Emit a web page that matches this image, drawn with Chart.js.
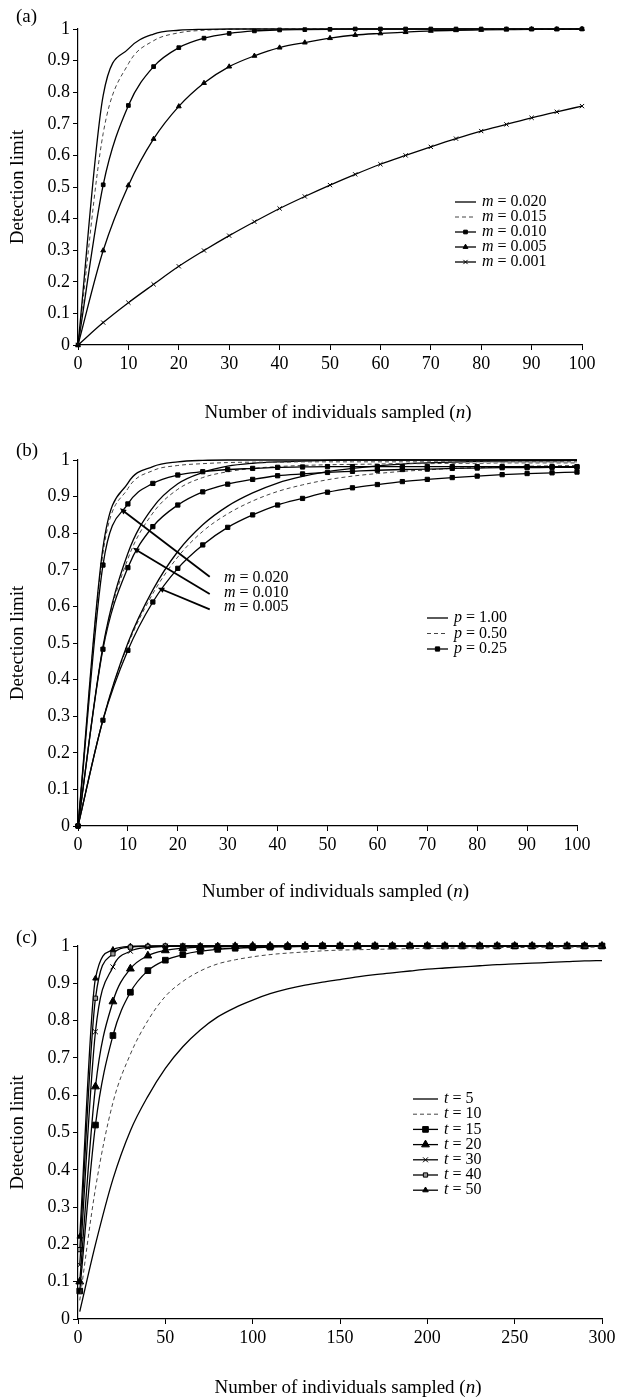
<!DOCTYPE html>
<html>
<head>
<meta charset="utf-8">
<script src="https://cdn.jsdelivr.net/npm/chart.js@4.4.0/dist/chart.umd.min.js"></script>
<style>
  body { margin: 0; background: #fff; }
  canvas { position: absolute; left: 0; }
</style>
</head>
<body>
<canvas id="chartA" width="622" height="440" style="top:0px"></canvas>
<canvas id="chartB" width="622" height="470" style="top:440px"></canvas>
<canvas id="chartC" width="622" height="488" style="top:910px"></canvas>
<script>
// ---- data ----
var yTickLabels = ['0', '0.1', '0.2', '0.3', '0.4', '0.5', '0.6', '0.7', '0.8', '0.9', '1'];
var xTicksAB = ['0', '10', '20', '30', '40', '50', '60', '70', '80', '90', '100'];
var xTicksC = ['0', '50', '100', '150', '200', '250', '300'];

// (a) sample sizes and detection limits for each m
var nA = [0, 5, 10, 15, 20, 25, 30, 35, 40, 45, 50, 55, 60, 65, 70, 75, 80, 85, 90, 95, 100];
var aM020 = [0, 0.79, 0.937, 0.984, 0.996, 0.999, 1, 1, 1, 1, 1, 1, 1, 1, 1, 1, 1, 1, 1, 1, 1];
var aM015 = [0, 0.67, 0.89, 0.963, 0.988, 0.996, 0.999, 1, 1, 1, 1, 1, 1, 1, 1, 1, 1, 1, 1, 1, 1];
var aM010 = [0, 0.507, 0.758, 0.881, 0.941, 0.971, 0.986, 0.994, 0.997, 0.998, 0.999, 1, 1, 1, 1, 1, 1, 1, 1, 1, 1];
var aM005 = [0, 0.299, 0.505, 0.652, 0.755, 0.829, 0.881, 0.915, 0.941, 0.957, 0.971, 0.981, 0.986, 0.99, 0.994, 0.996, 0.997, 0.998, 0.999, 0.999, 1];
var aM001 = [0, 0.071, 0.134, 0.192, 0.249, 0.299, 0.346, 0.39, 0.432, 0.47, 0.506, 0.54, 0.572, 0.6, 0.627, 0.653, 0.677, 0.698, 0.719, 0.738, 0.756];

// (b) m x p combinations
var nB = [0, 5, 10, 15, 20, 25, 30, 35, 40, 45, 50, 55, 60, 65, 70, 75, 80, 85, 90, 95, 100];
var bM020p100 = [0, 0.76, 0.937, 0.982, 0.995, 0.999, 1, 1, 1, 1, 1, 1, 1, 1, 1, 1, 1, 1, 1, 1, 1];
var bM020p050 = [0, 0.745, 0.922, 0.971, 0.985, 0.99, 0.993, 0.994, 0.994, 0.995, 0.995, 0.995, 0.995, 0.995, 0.995, 0.995, 0.995, 0.995, 0.995, 0.995, 0.995];
var bM020p025 = [0, 0.713, 0.88, 0.936, 0.959, 0.968, 0.974, 0.977, 0.98, 0.981, 0.982, 0.982, 0.982, 0.982, 0.982, 0.982, 0.982, 0.982, 0.982, 0.982, 0.982];
var bM010p100 = [0, 0.49, 0.745, 0.87, 0.935, 0.966, 0.983, 0.991, 0.995, 0.997, 0.999, 1, 1, 1, 1, 1, 1, 1, 1, 1, 1];
var bM010p050 = [0, 0.487, 0.73, 0.855, 0.92, 0.952, 0.968, 0.977, 0.982, 0.985, 0.987, 0.988, 0.989, 0.99, 0.99, 0.991, 0.991, 0.992, 0.992, 0.992, 0.992];
var bM010p025 = [0, 0.483, 0.706, 0.818, 0.877, 0.913, 0.934, 0.947, 0.957, 0.962, 0.966, 0.969, 0.972, 0.974, 0.975, 0.977, 0.978, 0.979, 0.979, 0.98, 0.98];
var bM005p100 = [0, 0.29, 0.5, 0.645, 0.75, 0.823, 0.874, 0.91, 0.937, 0.955, 0.968, 0.977, 0.984, 0.989, 0.992, 0.994, 0.996, 0.997, 0.998, 0.998, 0.999];
var bM005p050 = [0, 0.29, 0.495, 0.635, 0.735, 0.805, 0.853, 0.888, 0.914, 0.932, 0.946, 0.956, 0.963, 0.969, 0.973, 0.977, 0.979, 0.981, 0.983, 0.984, 0.985];
var bM005p025 = [0, 0.289, 0.48, 0.612, 0.704, 0.768, 0.816, 0.85, 0.877, 0.895, 0.912, 0.924, 0.933, 0.941, 0.947, 0.952, 0.956, 0.96, 0.963, 0.965, 0.967];

// (c) number of generations t
var nC = [1, 10, 20, 30, 40, 50, 60, 70, 80, 90, 100, 110, 120, 130, 140, 150, 160, 170, 180, 190, 200, 210, 220, 230, 240, 250, 260, 270, 280, 290, 300];
var cT5 = [0.02, 0.2, 0.375, 0.505, 0.597, 0.672, 0.73, 0.775, 0.81, 0.835, 0.855, 0.872, 0.885, 0.895, 0.903, 0.91, 0.917, 0.923, 0.928, 0.933, 0.938, 0.941, 0.944, 0.947, 0.95, 0.952, 0.954, 0.956, 0.958, 0.96, 0.961];
var cT10 = [0.05, 0.35, 0.58, 0.71, 0.8, 0.865, 0.905, 0.933, 0.952, 0.963, 0.971, 0.977, 0.981, 0.984, 0.987, 0.989, 0.99, 0.991, 0.992, 0.993, 0.994, 0.994, 0.995, 0.995, 0.996, 0.996, 0.996, 0.997, 0.997, 0.997, 0.997];
var cT15 = [0.075, 0.52, 0.76, 0.876, 0.934, 0.962, 0.977, 0.986, 0.991, 0.994, 0.996, 0.997, 0.998, 0.999, 1, 1, 1, 1, 1, 1, 1, 1, 1, 1, 1, 1, 1, 1, 1, 1, 1];
var cT20 = [0.1, 0.623, 0.851, 0.939, 0.974, 0.988, 0.994, 0.997, 0.998, 0.999, 1, 1, 1, 1, 1, 1, 1, 1, 1, 1, 1, 1, 1, 1, 1, 1, 1, 1, 1, 1, 1];
var cT30 = [0.145, 0.77, 0.944, 0.986, 0.996, 0.999, 1, 1, 1, 1, 1, 1, 1, 1, 1, 1, 1, 1, 1, 1, 1, 1, 1, 1, 1, 1, 1, 1, 1, 1, 1];
var cT40 = [0.186, 0.86, 0.979, 0.997, 0.999, 1, 1, 1, 1, 1, 1, 1, 1, 1, 1, 1, 1, 1, 1, 1, 1, 1, 1, 1, 1, 1, 1, 1, 1, 1, 1];
var cT50 = [0.221, 0.913, 0.99, 0.999, 1, 1, 1, 1, 1, 1, 1, 1, 1, 1, 1, 1, 1, 1, 1, 1, 1, 1, 1, 1, 1, 1, 1, 1, 1, 1, 1];

// ---- helpers ----
var FONT = '"Liberation Serif", "Times New Roman", serif';
var xTitleParts = [{ t: 'Number of individuals sampled (' }, { t: 'n', i: true }, { t: ')' }];

function series(xs, ys, style) {
  return Object.assign({
    data: xs.map(function(x, i) { return { x: x, y: ys[i] }; }),
    borderColor: '#000', borderWidth: 1.3, pointRadius: 0,
    pointBackgroundColor: '#000', pointBorderColor: '#000', pointBorderWidth: 1,
    fill: false, clip: false
  }, style);
}

var solid = {};
var dashed = { borderColor: '#444', borderWidth: 1, borderDash: [4, 3] };

function drawRich(ctx, parts, x, y, size, align) {
  var widths = parts.map(function(p) {
    ctx.font = (p.i ? 'italic ' : '') + size + 'px ' + FONT;
    return ctx.measureText(p.t).width;
  });
  var total = widths.reduce(function(a, b) { return a + b; }, 0);
  var cx = align === 'center' ? x - total / 2 : x;
  ctx.textAlign = 'left';
  parts.forEach(function(p, k) {
    ctx.font = (p.i ? 'italic ' : '') + size + 'px ' + FONT;
    ctx.fillText(p.t, cx, y);
    cx += widths[k];
  });
}

function legendSample(ctx, ds, x0, x1, y) {
  ctx.save();
  ctx.strokeStyle = ds.borderColor;
  ctx.lineWidth = ds.borderWidth;
  ctx.setLineDash(ds.borderDash || []);
  ctx.beginPath(); ctx.moveTo(x0, y); ctx.lineTo(x1, y); ctx.stroke();
  ctx.setLineDash([]);
  if (ds.pointRadius > 0) {
    ctx.fillStyle = ds.pointBackgroundColor;
    ctx.strokeStyle = ds.pointBorderColor;
    ctx.lineWidth = ds.pointBorderWidth;
    Chart.helpers.drawPoint(ctx, { pointStyle: ds.pointStyle, radius: ds.pointRadius, rotation: 0, borderWidth: ds.pointBorderWidth }, (x0 + x1) / 2, y);
  }
  ctx.restore();
}

// panel decorations: letter, x title with italic n, legend, arrows
function decorations(o) {
  return {
    id: 'decor',
    afterDraw: function(chart) {
      var ctx = chart.ctx, area = chart.chartArea;
      var xs = chart.scales.x, ys = chart.scales.y;
      ctx.save();
      ctx.fillStyle = '#000';
      ctx.textBaseline = 'middle';
      ctx.font = '19px ' + FONT;
      ctx.textAlign = 'left';
      ctx.fillText(o.letter, 16, o.letterY);
      drawRich(ctx, xTitleParts, (area.left + area.right) / 2 + 8, o.titleY, 19, 'center');

      o.legend.forEach(function(item, k) {
        var y = o.legendY + k * o.legendStep;
        legendSample(ctx, chart.data.datasets[item.ds], o.legendX, o.legendX + o.sampleW, y);
        drawRich(ctx, item.parts, o.legendX + o.sampleW + 6, y, 16, 'left');
      });

      (o.arrows || []).forEach(function(a) {
        var x0 = xs.getPixelForValue(a.from[0]), y0 = ys.getPixelForValue(a.from[1]);
        var x1 = xs.getPixelForValue(a.to[0]), y1 = ys.getPixelForValue(a.to[1]);
        var ang = Math.atan2(y1 - y0, x1 - x0);
        ctx.strokeStyle = '#000';
        ctx.lineWidth = 1.8;
        ctx.beginPath(); ctx.moveTo(x0, y0); ctx.lineTo(x1 - 4 * Math.cos(ang), y1 - 4 * Math.sin(ang)); ctx.stroke();
        ctx.beginPath();
        ctx.moveTo(x1, y1);
        ctx.lineTo(x1 - 7 * Math.cos(ang - 0.4), y1 - 7 * Math.sin(ang - 0.4));
        ctx.lineTo(x1 - 7 * Math.cos(ang + 0.4), y1 - 7 * Math.sin(ang + 0.4));
        ctx.closePath(); ctx.fill();
      });
      (o.notes || []).forEach(function(nt) {
        drawRich(ctx, nt.parts, nt.x, nt.y, 16, 'left');
      });
      ctx.restore();
    }
  };
}

function options(xMax, xStep, xLabels, padTop, padRight, xAxisHeight) {
  var tickFont = { family: FONT, size: 18 };
  return {
    responsive: false,
    animation: false,
    devicePixelRatio: 1,
    layout: { padding: { top: padTop, right: padRight, left: 0, bottom: 0 } },
    plugins: { legend: { display: false }, tooltip: { enabled: false } },
    elements: { line: { cubicInterpolationMode: 'monotone' } },
    scales: {
      x: {
        type: 'linear', min: 0, max: xMax,
        afterFit: function(s) { s.height = xAxisHeight; },
        border: { color: '#000', width: 1.2 },
        grid: { drawOnChartArea: false, color: '#000', tickLength: 5 },
        ticks: {
          stepSize: xStep, color: '#000', font: tickFont, padding: 3,
          maxRotation: 0, autoSkip: false,
          callback: function(v, i) { return xLabels[i]; }
        }
      },
      y: {
        min: 0, max: 1,
        afterFit: function(s) { s.width = 78; },
        border: { color: '#000', width: 1.2 },
        grid: { drawOnChartArea: false, color: '#000', tickLength: 5 },
        ticks: {
          stepSize: 0.1, color: '#000', font: tickFont, padding: 3, autoSkip: false,
          callback: function(v, i) { return yTickLabels[i]; }
        },
        title: { display: true, text: 'Detection limit', color: '#000', font: { family: FONT, size: 19 }, padding: { top: 7, bottom: 0 } }
      }
    }
  };
}

// ---- (a) ----
new Chart(document.getElementById('chartA'), {
  type: 'line',
  data: {
    datasets: [
      series(nA, aM020, solid),
      series(nA, aM015, dashed),
      series(nA, aM010, { pointStyle: 'rect', pointRadius: 2.6 }),
      series(nA, aM005, { pointStyle: 'triangle', pointRadius: 2.8 }),
      series(nA, aM001, { pointStyle: 'crossRot', pointRadius: 3 })
    ]
  },
  options: options(100, 10, xTicksAB, 29, 40, 95),
  plugins: [decorations({
    letter: '(a)', letterY: 17, titleY: 413,
    legendX: 455, sampleW: 21, legendY: 202, legendStep: 15,
    legend: [
      { ds: 0, parts: [{ t: 'm', i: true }, { t: ' = 0.020' }] },
      { ds: 1, parts: [{ t: 'm', i: true }, { t: ' = 0.015' }] },
      { ds: 2, parts: [{ t: 'm', i: true }, { t: ' = 0.010' }] },
      { ds: 3, parts: [{ t: 'm', i: true }, { t: ' = 0.005' }] },
      { ds: 4, parts: [{ t: 'm', i: true }, { t: ' = 0.001' }] }
    ]
  })]
});

// ---- (b) ----
var sqB = { pointStyle: 'rect', pointRadius: 3 };
new Chart(document.getElementById('chartB'), {
  type: 'line',
  data: {
    datasets: [
      series(nB, bM020p100, solid),
      series(nB, bM020p050, dashed),
      series(nB, bM020p025, sqB),
      series(nB, bM010p100, solid),
      series(nB, bM010p050, dashed),
      series(nB, bM010p025, sqB),
      series(nB, bM005p100, solid),
      series(nB, bM005p050, dashed),
      series(nB, bM005p025, sqB)
    ]
  },
  options: options(100, 10, xTicksAB, 20, 45, 84),
  plugins: [decorations({
    letter: '(b)', letterY: 11, titleY: 452,
    legendX: 427, sampleW: 21, legendY: 178, legendStep: 15.5,
    legend: [
      { ds: 0, parts: [{ t: 'p', i: true }, { t: ' = 1.00' }] },
      { ds: 1, parts: [{ t: 'p', i: true }, { t: ' = 0.50' }] },
      { ds: 2, parts: [{ t: 'p', i: true }, { t: ' = 0.25' }] }
    ],
    arrows: [
      { from: [26.4, 0.681], to: [8.4, 0.868] },
      { from: [26.4, 0.634], to: [11.0, 0.760] },
      { from: [26.4, 0.592], to: [16.0, 0.651] }
    ],
    notes: [
      { x: 224, y: 138, parts: [{ t: 'm', i: true }, { t: ' = 0.020' }] },
      { x: 224, y: 153, parts: [{ t: 'm', i: true }, { t: ' = 0.010' }] },
      { x: 224, y: 167, parts: [{ t: 'm', i: true }, { t: ' = 0.005' }] }
    ]
  })]
});

// ---- (c) ----
new Chart(document.getElementById('chartC'), {
  type: 'line',
  data: {
    datasets: [
      series(nC, cT5, solid),
      series(nC, cT10, dashed),
      series(nC, cT15, { pointStyle: 'rect', pointRadius: 4 }),
      series(nC, cT20, { pointStyle: 'triangle', pointRadius: 4.5 }),
      series(nC, cT30, { pointStyle: 'crossRot', pointRadius: 3.5 }),
      series(nC, cT40, { pointStyle: 'rect', pointRadius: 3, pointBackgroundColor: '#999' }),
      series(nC, cT50, { pointStyle: 'triangle', pointRadius: 3.2 })
    ]
  },
  options: options(300, 50, xTicksC, 36, 20, 79),
  plugins: [decorations({
    letter: '(c)', letterY: 28, titleY: 478,
    legendX: 413, sampleW: 25, legendY: 189, legendStep: 15.2,
    legend: [
      { ds: 0, parts: [{ t: 't', i: true }, { t: ' = 5' }] },
      { ds: 1, parts: [{ t: 't', i: true }, { t: ' = 10' }] },
      { ds: 2, parts: [{ t: 't', i: true }, { t: ' = 15' }] },
      { ds: 3, parts: [{ t: 't', i: true }, { t: ' = 20' }] },
      { ds: 4, parts: [{ t: 't', i: true }, { t: ' = 30' }] },
      { ds: 5, parts: [{ t: 't', i: true }, { t: ' = 40' }] },
      { ds: 6, parts: [{ t: 't', i: true }, { t: ' = 50' }] }
    ]
  })]
});
</script>
</body>
</html>
